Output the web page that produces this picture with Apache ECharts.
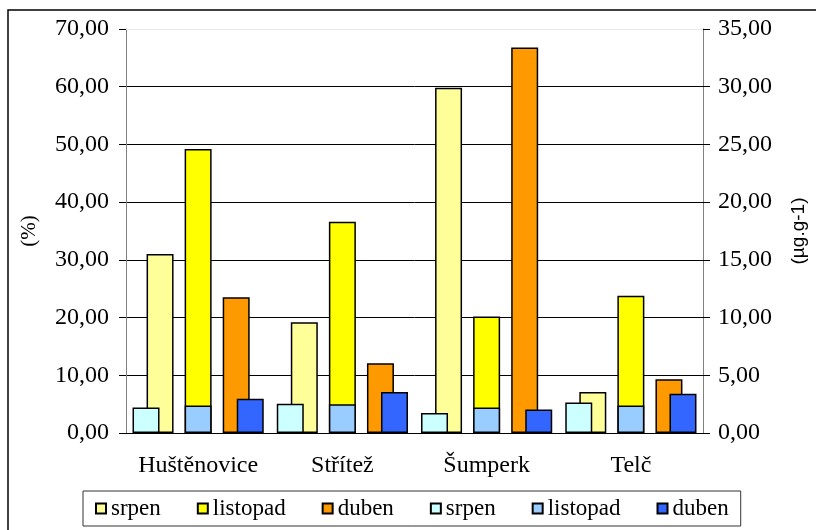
<!DOCTYPE html>
<html>
<head>
<meta charset="utf-8">
<script src="https://cdn.jsdelivr.net/npm/echarts@6/dist/echarts.min.js"></script>
<style>
html, body { margin: 0; padding: 0; background: #fff; }
#chart { width: 816px; height: 530px; }
</style>
</head>
<body>
<div id="chart"></div>
<script>
var myChart = echarts.init(document.getElementById('chart'));

// lokality
var categories = ['Huštěnovice', 'Střítež', 'Šumperk', 'Telč'];

// levá osa (%)
var srpenPct = [31.0, 19.2, 59.8, 7.1];
var listopadPct = [49.2, 36.6, 20.2, 23.8];
var dubenPct = [23.5, 12.1, 66.8, 9.3];

// pravá osa (µg.g-1)
var srpenUg = [2.20, 2.53, 1.74, 2.65];
var listopadUg = [2.38, 2.50, 2.20, 2.38];
var dubenUg = [2.97, 3.56, 2.03, 3.41];

var leftTicks = [0, 70, 10];
var rightTicks = [0, 35, 5];

var serif = 'Liberation Serif';

var fmt = function (v) {
    return v.toFixed(2).replace('.', ',');
};

var bar = function (name, data, color, xi, yi, gap) {
    var s = {
        name: name,
        type: 'bar',
        xAxisIndex: xi,
        yAxisIndex: yi,
        barWidth: 27,
        data: data,
        itemStyle: {
            color: color,
            borderColor: '#000',
            borderWidth: 1.5
        },
        z: xi == 1 ? 3 : 2
    };
    if (gap) s.barGap = gap;
    return s;
};

var series = [
    bar('srpen', srpenPct, '#FFFF99', 0, 0, '41%'),
    bar('listopad', listopadPct, '#FFFF00', 0, 0),
    bar('duben', dubenPct, '#FF9900', 0, 0),
    bar('srpen ', srpenUg, '#CCFFFF', 1, 1, '93%'),
    bar('listopad ', listopadUg, '#99CCFF', 1, 1),
    bar('duben ', dubenUg, '#3366FF', 1, 1)
];
// horní mřížka je skoro neviditelná
series[0].markLine = {
    silent: true,
    symbol: 'none',
    label: { show: false },
    lineStyle: { color: '#e8e8e8', type: 'solid', width: 1 },
    data: [{ yAxis: leftTicks[1] }]
};

var option = {
    backgroundColor: '#fff',
    animation: false,
    textStyle: { fontFamily: serif, color: '#000' },
    grid: { left: 126, right: 110, top: 29, bottom: 97 },
    graphic: [{
        type: 'rect',
        shape: { x: 8, y: 10, width: 900, height: 600 },
        style: { fill: 'none', stroke: '#000', lineWidth: 1.5 },
        z: -1
    }],
    legend: {
        left: 83,
        top: 491,
        padding: [6, 12],
        itemGap: 36,
        itemWidth: 10,
        itemHeight: 10,
        icon: 'rect',
        borderColor: '#333',
        borderWidth: 1,
        textStyle: { fontFamily: serif, fontSize: 23, color: '#000' },
        formatter: function (n) { return n.trim(); },
        data: ['srpen', 'listopad', 'duben', 'srpen ', 'listopad ', 'duben ']
    },
    xAxis: [{
        type: 'category',
        data: categories,
        axisLine: { lineStyle: { color: '#000', width: 1 } },
        axisTick: { length: 7, lineStyle: { color: '#000' } },
        axisLabel: { fontFamily: serif, fontSize: 24, color: '#000', margin: 21, interval: 0 }
    }, {
        type: 'category',
        data: categories,
        show: false
    }],
    yAxis: [{
        type: 'value',
        min: leftTicks[0],
        max: leftTicks[1],
        interval: leftTicks[2],
        name: '(%)',
        nameLocation: 'middle',
        nameRotate: 90,
        nameGap: 86,
        nameTextStyle: { fontFamily: serif, fontSize: 21, color: '#000' },
        axisLine: { show: true, lineStyle: { color: '#808080' } },
        axisTick: { show: true, length: 7, lineStyle: { color: '#000' } },
        axisLabel: { fontFamily: serif, fontSize: 24, color: '#000', margin: 17, formatter: fmt },
        splitLine: { showMaxLine: false, lineStyle: { color: '#000', width: 1 } }
    }, {
        type: 'value',
        min: rightTicks[0],
        max: rightTicks[1],
        interval: rightTicks[2],
        position: 'right',
        name: '(µg.g-1)',
        nameLocation: 'middle',
        nameRotate: 90,
        nameGap: 86,
        nameTextStyle: { fontFamily: 'Liberation Sans', fontSize: 19, color: '#000' },
        axisLine: { show: true, lineStyle: { color: '#808080' } },
        axisTick: { show: true, length: 7, lineStyle: { color: '#000' } },
        axisLabel: { fontFamily: serif, fontSize: 24, color: '#000', margin: 15, formatter: fmt },
        splitLine: { show: false }
    }, {
        // vnitřní část křížových značek na pravé ose
        type: 'value',
        min: rightTicks[0],
        max: rightTicks[1],
        interval: rightTicks[2],
        position: 'right',
        axisLine: { show: false },
        axisTick: { show: true, inside: true, length: 7, lineStyle: { color: '#000' } },
        axisLabel: { show: false },
        splitLine: { show: false }
    }],
    series: series
};

myChart.setOption(option);
</script>
</body>
</html>
